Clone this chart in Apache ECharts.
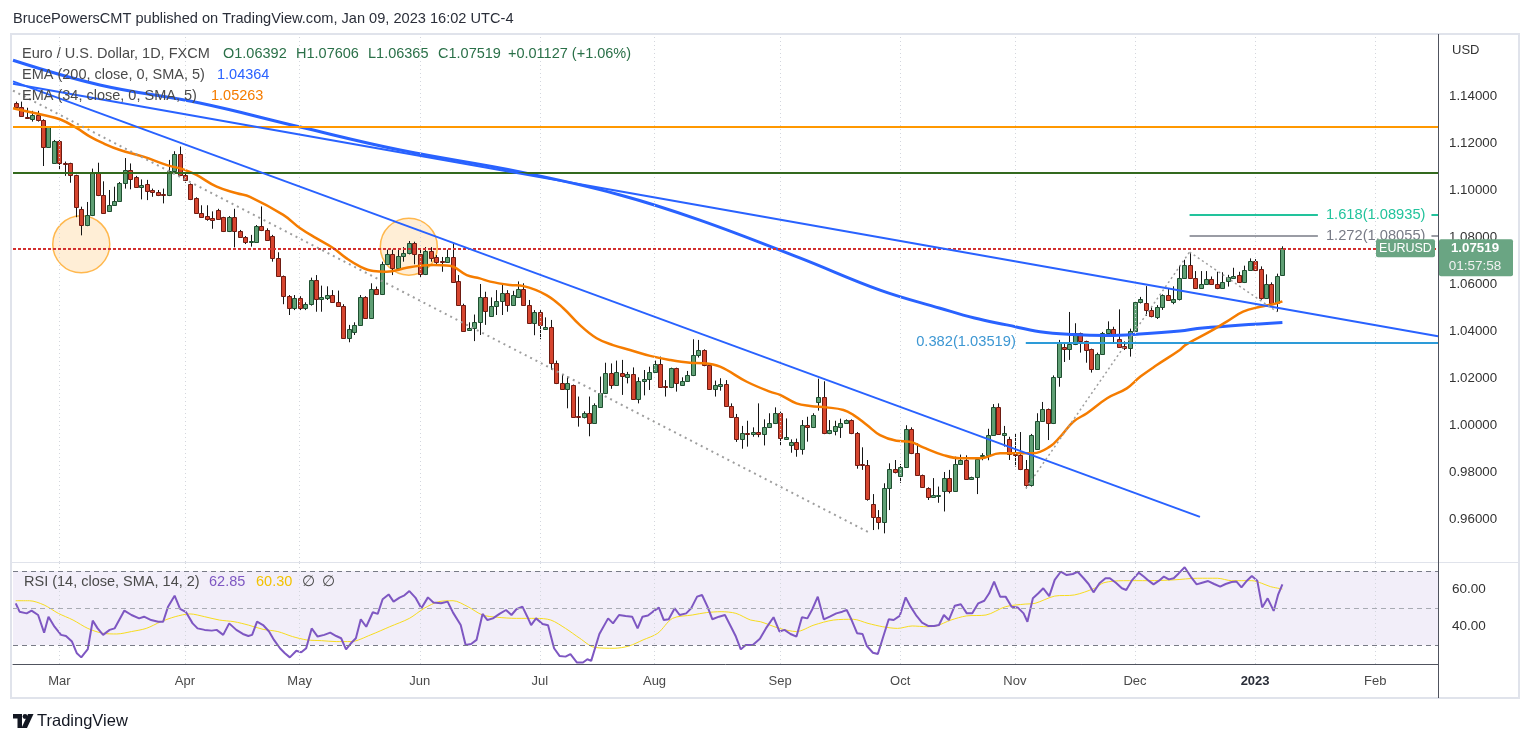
<!DOCTYPE html>
<html><head><meta charset="utf-8">
<script src="https://cdn.jsdelivr.net/npm/echarts@6/dist/echarts.min.js"></script>
<style>html,body{margin:0;padding:0;background:#fff;}#c{width:1527px;height:743px;}</style>
</head><body><div id="c"></div>
<script>
const FONT = "'Liberation Sans', Arial, sans-serif";

// ---- candles (index 0 = 2022-02-17, one per weekday) ----
const openP = [1.1369,1.1352,1.1309,1.1304,1.1318,1.1298,1.1185,1.1113,1.1210,1.1116,
1.1113,1.1062,1.0920,1.0850,1.0892,1.1071,1.0977,1.0912,1.0935,1.0952,
1.1028,1.1085,1.1054,1.1011,1.1026,1.1000,1.0991,1.0983,1.0977,1.1080,
1.1153,1.1062,1.1026,1.0966,1.0901,1.0889,1.0881,1.0915,1.0884,1.0824,
1.0886,1.0824,1.0801,1.0777,1.0780,1.0845,1.0828,1.0803,1.0709,1.0633,
1.0550,1.0496,1.0539,1.0499,1.0514,1.0616,1.0536,1.0542,1.0553,1.0522,
1.0508,1.0372,1.0397,1.0426,1.0545,1.0457,1.0579,1.0556,1.0684,1.0726,
1.0669,1.0718,1.0732,1.0774,1.0726,1.0641,1.0740,1.0715,1.0698,1.0695,
1.0715,1.0613,1.0511,1.0403,1.0411,1.0437,1.0543,1.0465,1.0506,1.0528,
1.0560,1.0512,1.0546,1.0577,1.0512,1.0435,1.0481,1.0410,1.0416,1.0262,
1.0177,1.0152,1.0169,1.0038,1.0033,1.0050,1.0010,1.0078,1.0138,1.0220,
1.0171,1.0223,1.0206,1.0217,1.0112,1.0186,1.0194,1.0226,1.0260,1.0166,
1.0160,1.0241,1.0169,1.0186,1.0211,1.0296,1.0319,1.0254,1.0154,1.0167,
1.0173,1.0081,1.0033,0.9939,0.9967,0.9962,0.9970,0.9962,0.9990,1.0007,
1.0050,0.9942,0.9913,0.9928,0.9899,0.9999,0.9990,1.0098,1.0118,0.9964,
0.9976,0.9993,1.0010,1.0021,0.9964,0.9834,0.9831,0.9664,0.9607,0.9587,
0.9732,0.9811,0.9783,0.9820,0.9982,0.9879,0.9786,0.9732,0.9695,0.9698,
0.9720,0.9774,0.9720,0.9834,0.9851,0.9769,0.9777,0.9868,0.9871,0.9959,
1.0075,0.9959,0.9939,0.9877,0.9874,0.9811,0.9743,0.9899,1.0016,1.0067,
1.0007,1.0203,1.0331,1.0322,1.0345,1.0390,1.0356,1.0322,1.0237,1.0302,
1.0390,1.0407,1.0367,1.0336,1.0328,1.0401,1.0523,1.0521,1.0489,1.0458,
1.0502,1.0553,1.0522,1.0536,1.0627,1.0681,1.0624,1.0584,1.0601,1.0621,
1.0601,1.0584,1.0613,1.0627,1.0638,1.0607,1.0661,1.0698,1.0664,1.0542,
1.0599,1.0519,1.06392];
const closeP = [1.1352,1.1315,1.1305,1.1318,1.1298,1.1185,1.1267,1.1210,1.1113,1.1111,
1.1062,1.0926,1.0850,1.0892,1.1071,1.0977,1.0903,1.0935,1.0952,1.1028,
1.1085,1.1045,1.1011,1.1023,1.0997,1.0991,1.0977,1.0977,1.1080,1.1153,
1.1062,1.1043,1.0963,1.0901,1.0886,1.0875,1.0872,1.0878,1.0824,1.0886,
1.0824,1.0801,1.0779,1.0783,1.0845,1.0828,1.0789,1.0709,1.0633,1.0550,
1.0496,1.0539,1.0499,1.0514,1.0616,1.0536,1.0545,1.0553,1.0522,1.0508,
1.0372,1.0408,1.0426,1.0545,1.0457,1.0579,1.0556,1.0684,1.0726,1.0669,
1.0718,1.0732,1.0774,1.0726,1.0641,1.0740,1.0712,1.0692,1.0692,1.0715,
1.0610,1.0511,1.0400,1.0411,1.0437,1.0543,1.0487,1.0506,1.0528,1.0560,
1.0512,1.0552,1.0577,1.0512,1.0435,1.0481,1.0424,1.0416,1.0262,1.0177,
1.0152,1.0180,1.0035,1.0033,1.0050,1.0010,1.0084,1.0138,1.0220,1.0171,
1.0226,1.0209,1.0217,1.0112,1.0186,1.0194,1.0226,1.0260,1.0163,1.0160,
1.0241,1.0177,1.0186,1.0211,1.0296,1.0319,1.0254,1.0154,1.0169,1.0173,
1.0081,1.0035,0.9939,0.9964,0.9962,0.9970,0.9962,0.9990,1.0007,1.0050,
0.9945,0.9948,0.9928,0.9899,0.9999,0.9990,1.0041,1.0118,0.9964,0.9979,
0.9996,1.0007,1.0021,0.9964,0.9831,0.9828,0.9684,0.9607,0.9587,0.9732,
0.9811,0.9800,0.9820,0.9982,0.9879,0.9786,0.9738,0.9695,0.9701,0.9701,
0.9774,0.9720,0.9834,0.9851,0.9769,0.9777,0.9854,0.9874,0.9959,1.0075,
0.9962,0.9964,0.9877,0.9871,0.9811,0.9743,0.9956,1.0016,1.0067,1.0007,
1.0203,1.0348,1.0322,1.0345,1.0390,1.0356,1.0319,1.0237,1.0302,1.0390,
1.0407,1.0382,1.0333,1.0328,1.0401,1.0523,1.0535,1.0489,1.0464,1.0501,
1.0553,1.0531,1.0536,1.0627,1.0681,1.0624,1.0582,1.0601,1.0621,1.0601,
1.0584,1.0610,1.0630,1.0635,1.0607,1.0661,1.0698,1.0661,1.0542,1.0599,
1.0519,1.0635,1.07519];
const highP = [1.1376,1.1376,1.1350,1.1337,1.1337,1.1301,1.1272,1.1213,1.1213,1.1121,
1.1116,1.1065,1.0929,1.0949,1.1091,1.1116,1.1037,1.1000,1.1014,1.1034,
1.1136,1.1113,1.1060,1.1045,1.1043,1.1006,1.1000,1.1006,1.1128,1.1165,
1.1185,1.1071,1.1028,1.0969,1.0935,1.0935,1.0909,1.0920,1.0886,1.0889,
1.0920,1.0830,1.0804,1.0809,1.0851,1.0930,1.0837,1.0809,1.0735,1.0636,
1.0553,1.0553,1.0548,1.0522,1.0627,1.0638,1.0593,1.0590,1.0574,1.0572,
1.0514,1.0426,1.0437,1.0553,1.0548,1.0603,1.0589,1.0695,1.0746,1.0746,
1.0752,1.0757,1.0783,1.0780,1.0752,1.0757,1.0757,1.0723,1.0715,1.0746,
1.0772,1.0638,1.0516,1.0437,1.0470,1.0600,1.0567,1.0543,1.0574,1.0603,
1.0574,1.0571,1.0611,1.0603,1.0532,1.0489,1.0489,1.0458,1.0447,1.0274,
1.0217,1.0206,1.0172,1.0121,1.0058,1.0121,1.0092,1.0206,1.0265,1.0262,
1.0274,1.0277,1.0226,1.0245,1.0203,1.0234,1.0248,1.0274,1.0291,1.0191,
1.0244,1.0244,1.0203,1.0230,1.0365,1.0362,1.0322,1.0254,1.0189,1.0199,
1.0191,1.0092,1.0047,0.9996,1.0018,0.9990,1.0092,1.0024,1.0050,1.0075,
1.0057,1.0028,0.9939,0.9942,1.0021,1.0035,1.0050,1.0197,1.0186,1.0021,
1.0018,1.0027,1.0024,1.0024,0.9970,0.9905,0.9851,0.9706,0.9638,0.9752,
0.9837,0.9851,0.9834,0.9999,0.9990,0.9922,0.9789,0.9735,0.9774,0.9738,
0.9800,0.9809,0.9865,0.9874,0.9871,0.9780,0.9860,0.9880,0.9984,1.0089,
1.0092,0.9996,0.9950,0.9962,0.9970,0.9851,0.9962,1.0050,1.0098,1.0070,
1.0211,1.0362,1.0353,1.0481,1.0433,1.0393,1.0359,1.0325,1.0308,1.0396,
1.0441,1.0418,1.0492,1.0356,1.0410,1.0526,1.0545,1.0591,1.0503,1.0510,
1.0556,1.0580,1.0590,1.0678,1.0703,1.0736,1.0655,1.0655,1.0655,1.0632,
1.0652,1.0650,1.0639,1.0669,1.0652,1.0678,1.0709,1.0706,1.0675,1.0641,
1.0607,1.0644,1.07606];
const lowP = [1.1343,1.1312,1.1303,1.1291,1.1291,1.1102,1.1182,1.1111,1.1085,1.1060,
1.1031,1.0884,1.0807,1.0846,1.0889,1.0974,1.0901,1.0909,1.0932,1.0949,
1.1006,1.1003,1.1009,1.0960,1.0957,1.0971,1.0974,1.0943,1.0974,1.1077,
1.1060,1.1031,1.0957,1.0898,1.0884,1.0869,1.0835,1.0875,1.0821,1.0821,
1.0756,1.0799,1.0770,1.0759,1.0777,1.0825,1.0786,1.0695,1.0630,1.0514,
1.0468,1.0489,1.0489,1.0489,1.0508,1.0482,1.0482,1.0532,1.0519,1.0503,
1.0366,1.0352,1.0383,1.0423,1.0454,1.0454,1.0553,1.0553,1.0681,1.0638,
1.0666,1.0695,1.0726,1.0684,1.0630,1.0638,1.0695,1.0684,1.0652,1.0692,
1.0607,1.0508,1.0397,1.0400,1.0357,1.0383,1.0426,1.0461,1.0468,1.0468,
1.0482,1.0509,1.0543,1.0509,1.0433,1.0382,1.0365,1.0408,1.0234,1.0174,
1.0149,1.0071,1.0033,0.9993,1.0028,0.9952,1.0007,1.0075,1.0135,1.0154,
1.0168,1.0128,1.0177,1.0109,1.0092,1.0126,1.0149,1.0223,1.0160,1.0121,
1.0157,1.0142,1.0166,1.0183,1.0208,1.0287,1.0250,1.0149,1.0121,1.0146,
1.0078,1.0032,0.9928,0.9899,0.9908,0.9950,0.9948,0.9913,0.9987,1.0004,
0.9913,0.9940,0.9882,0.9865,0.9874,0.9929,0.9987,1.0061,0.9961,0.9961,
0.9956,0.9945,1.0007,0.9961,0.9814,0.9809,0.9678,0.9553,0.9556,0.9539,
0.9638,0.9794,0.9754,0.9817,0.9876,0.9783,0.9735,0.9681,0.9692,0.9669,
0.9632,0.9709,0.9717,0.9830,0.9766,0.9766,0.9706,0.9850,0.9850,0.9956,
0.9959,0.9908,0.9851,0.9823,0.9808,0.9730,0.9738,0.9897,1.0013,0.9936,
1.0004,1.0163,1.0268,1.0277,1.0340,1.0308,1.0265,1.0223,1.0234,1.0299,
1.0387,1.0348,1.0331,1.0319,1.0291,1.0398,1.0517,1.0464,1.0458,1.0451,
1.0490,1.0528,1.0514,1.0530,1.0624,1.0621,1.0579,1.0581,1.0598,1.0598,
1.0578,1.0581,1.0589,1.0624,1.0604,1.0604,1.0658,1.0655,1.0533,1.0539,
1.0511,1.0482,1.06365];

// ---- indicator readings [bar index, value] ----
const ema200 = [[-0.5,1.1552],[15.4,1.1447],[33.7,1.1370],[52.1,1.1268],[70.4,1.1170],[92.4,1.1077],[110.7,1.0979],[125.3,1.0872],[143.6,1.0711],[158.3,1.0574],[169.3,1.0497],[175.6,1.0455],[181.5,1.0426],[187.6,1.0397],[193.6,1.0385],[199.9,1.0381],[205.9,1.0387],[213.2,1.0400],[217.4,1.0413],[232,1.04364]];
const ema34 = [[-0.5,1.1348],[5.05,1.1319],[8.1,1.1301],[11.2,1.1263],[13.6,1.1227],[16.0,1.1199],[19.1,1.1170],[23.4,1.1142],[27.7,1.1106],[30.7,1.1088],[33.1,1.1064],[36.8,1.1014],[40.5,1.0986],[42.9,1.0971],[49.0,1.0894],[52.1,1.0837],[55.1,1.0794],[58.2,1.0752],[60.6,1.0709],[63.1,1.0674],[65.5,1.0655],[67.9,1.0652],[71.6,1.0669],[74.0,1.0678],[76.5,1.0681],[79.5,1.0678],[82.6,1.0638],[85.0,1.0624],[86.9,1.0610],[90.5,1.0596],[93.0,1.0591],[97.2,1.0553],[100.3,1.0497],[103.3,1.0426],[106.4,1.0369],[109.4,1.0340],[112.5,1.0319],[116.2,1.0294],[119.8,1.0277],[123.5,1.0265],[125.9,1.0263],[129.0,1.0248],[133.9,1.0184],[138.1,1.0142],[140.0,1.0128],[143.0,1.0092],[145.5,1.0081],[148.5,1.0075],[151.6,1.0064],[153.4,1.0043],[155.9,1.0000],[158.3,0.9957],[161.3,0.9933],[163.8,0.9929],[166.2,0.9905],[169.9,0.9872],[172.9,0.9858],[176.6,0.9858],[180.3,0.9880],[183.3,0.9880],[186.4,0.9880],[189.4,0.9908],[191.3,0.9950],[193.7,1.0014],[196.2,1.0050],[199.9,1.0114],[203.5,1.0156],[206.0,1.0206],[209.0,1.0255],[213.2,1.0319],[214.2,1.0340],[218.7,1.0397],[221.8,1.0440],[224.8,1.0482],[227.9,1.0503],[230.3,1.0514],[232,1.05263]];
const rsi = [[0,52.6],[0.7,48.1],[2.0,47.2],[2.9,48.7],[4.1,46.3],[5.2,36.8],[6.0,45.4],[7.1,40.0],[8.3,35.6],[9.2,35.0],[10.3,32.0],[11.2,25.7],[12.0,23.5],[13.2,28.0],[14.1,43.3],[15.0,39.1],[16.0,35.6],[17.2,38.3],[18.1,39.1],[19.9,48.7],[21.2,46.3],[22.6,44.5],[23.5,45.4],[24.8,43.6],[26.1,42.7],[27.0,42.7],[27.9,50.8],[29.1,56.7],[30.1,49.6],[31.2,47.8],[32.4,41.8],[33.3,39.1],[34.6,38.3],[35.9,37.9],[36.8,38.3],[38.0,35.6],[39.1,41.8],[40.4,38.3],[41.6,36.1],[42.6,35.0],[43.3,35.6],[44.2,42.7],[45.3,40.9],[46.4,37.4],[47.3,32.9],[48.4,28.4],[49.3,25.7],[50.2,23.5],[51.4,27.1],[52.3,26.2],[53.2,28.4],[54.2,39.1],[55.3,34.7],[56.5,35.6],[57.6,36.8],[58.7,35.0],[59.6,33.8],[60.5,27.8],[61.4,31.1],[62.3,33.8],[63.2,44.0],[64.2,40.0],[65.4,47.8],[66.3,46.9],[67.2,54.8],[68.3,57.4],[69.2,53.5],[70.3,55.7],[71.2,56.9],[72.1,59.2],[73.2,55.7],[74.3,49.9],[75.5,55.8],[76.5,53.0],[77.9,52.6],[79.1,53.5],[80.1,47.6],[81.5,40.9],[82.4,30.2],[83.4,30.7],[84.4,32.9],[85.5,46.9],[86.4,43.6],[87.4,44.5],[88.6,46.9],[89.8,49.0],[90.8,46.3],[91.7,49.4],[92.8,50.8],[93.7,45.4],[94.4,40.9],[95.3,44.5],[96.5,41.5],[97.5,40.8],[98.6,28.4],[99.6,24.3],[100.7,23.9],[101.6,25.3],[102.8,20.7],[103.9,20.7],[104.7,22.5],[105.4,21.6],[106.9,36.1],[108.5,44.5],[109.4,41.8],[110.5,46.3],[111.7,45.8],[112.9,45.4],[113.9,39.1],[114.8,45.4],[115.8,46.0],[116.7,48.1],[117.8,50.3],[118.7,43.6],[119.6,44.0],[120.7,49.9],[121.6,46.3],[122.8,47.2],[123.7,49.9],[124.8,56.2],[125.7,57.1],[126.7,50.8],[127.6,44.0],[128.8,45.4],[129.9,46.3],[131.0,40.0],[131.9,34.7],[132.8,27.8],[133.7,30.2],[135.0,30.2],[136.3,33.5],[137.4,39.1],[138.8,45.1],[139.9,37.4],[140.8,38.3],[141.9,36.1],[143.0,34.7],[144.0,45.1],[145.0,44.5],[145.9,49.4],[146.9,56.2],[148.0,44.0],[149.1,45.4],[150.3,47.2],[151.4,48.1],[152.2,49.0],[153.1,43.6],[154.1,36.5],[155.1,36.1],[155.9,29.6],[157.0,26.0],[157.9,25.3],[158.8,33.8],[159.9,44.0],[160.8,43.6],[161.9,45.8],[163.0,55.8],[163.9,50.8],[165.0,45.8],[166.0,42.2],[167.1,40.4],[168.2,40.4],[169.1,40.9],[170.0,46.3],[170.9,43.6],[172.0,51.3],[173.1,52.1],[174.2,47.2],[175.2,47.2],[176.3,52.6],[177.4,54.0],[178.3,58.0],[179.2,64.3],[180.3,56.2],[181.3,56.2],[182.4,50.8],[183.5,50.4],[184.6,47.2],[185.3,42.7],[186.3,55.3],[187.3,58.0],[188.2,60.7],[189.3,56.5],[190.3,65.2],[191.4,69.6],[192.5,67.8],[193.6,68.4],[194.5,69.6],[195.6,66.1],[196.5,63.0],[197.4,58.5],[198.5,63.4],[199.6,66.1],[200.4,66.1],[201.5,63.7],[202.6,60.7],[203.4,59.8],[204.4,64.8],[205.7,69.1],[206.6,67.0],[207.5,64.8],[208.4,62.8],[209.4,64.8],[210.3,67.0],[211.2,65.5],[212.1,66.1],[213.0,68.7],[214.1,72.0],[215.2,67.0],[216.3,62.8],[217.3,63.7],[218.4,64.6],[219.5,63.0],[220.6,61.6],[221.6,63.0],[222.7,64.1],[223.6,64.3],[224.5,61.2],[225.5,64.8],[226.4,67.3],[227.4,64.8],[228.3,50.4],[229.3,55.3],[230.4,48.5],[231.2,57.1],[232,62.85]];
const rsiMa = [[0,54.0],[2.5,54.0],[5.2,51.7],[7.8,47.2],[10.5,43.6],[13.2,39.1],[15.9,36.5],[18.5,36.1],[21.2,37.4],[23.9,39.1],[26.6,42.7],[29.2,45.4],[31.9,46.9],[34.6,45.4],[37.3,43.6],[40.0,42.7],[42.6,40.9],[45.3,38.6],[48.0,37.4],[50.7,34.7],[53.3,32.9],[56.0,32.5],[58.7,32.0],[61.4,32.0],[65.0,35.6],[68.5,40.0],[72.1,44.5],[74.8,49.9],[77.5,53.5],[80.1,54.0],[82.8,50.8],[85.5,46.3],[88.2,45.1],[91.7,44.5],[95.3,44.5],[98.0,43.6],[100.7,39.1],[103.3,33.8],[106.0,28.9],[109.6,28.4],[112.3,29.6],[114.9,32.9],[117.6,36.5],[120.3,44.5],[123.9,46.3],[126.5,47.6],[129.2,48.1],[131.9,47.2],[134.6,43.6],[136.4,42.7],[139.9,39.1],[143.0,37.4],[146.2,40.9],[149.8,43.6],[153.4,44.0],[156.1,41.8],[158.8,40.0],[161.5,39.1],[164.2,40.4],[166.9,40.0],[168.6,40.4],[171.3,43.6],[174.1,45.8],[177.7,46.3],[181.3,50.8],[184.9,52.2],[186.7,52.6],[190.3,56.5],[193.9,57.1],[197.6,60.7],[199.3,63.7],[202.9,64.8],[207.5,64.8],[212.0,65.2],[216.5,66.1],[220.1,66.1],[222.7,64.8],[226.4,64.8],[228.2,63.4],[229.8,61.6],[232,60.3]];

// ---- drawings / levels ----
const circles = [[12,1.0769],[72,1.0759]];
const hLevels = [1.1268, 1.1074, 1.0748];
const fibPts = [[185,0.9730],[215,1.0736],[231,1.0482]];
const fibLevels = [0.382, 1.272, 1.618];
const fibValues = [1.03519, 1.08055, 1.08935];
const priceTicks = [0.96,0.98,1.00,1.02,1.04,1.06,1.08,1.10,1.12,1.14];
const rsiTicks = [40, 60];
const lastPrice = 1.07519;

// ---- dates (weekdays) ----
const N = 261;
const dates = [];
{ let d = new Date(Date.UTC(2022,1,17));
  while (dates.length < N) { const w = d.getUTCDay(); if (w !== 0 && w !== 6) dates.push(new Date(d)); d.setUTCDate(d.getUTCDate()+1); } }
const monthNames = ['Jan','Feb','Mar','Apr','May','Jun','Jul','Aug','Sep','Oct','Nov','Dec'];
const monthTicks = [];
for (let i = 1; i < N; i++) if (dates[i].getUTCMonth() !== dates[i-1].getUTCMonth()) monthTicks.push(i);
function monthLabel(v){ const dt = dates[Math.round(v)]; const m = dt.getUTCMonth(); return m === 0 ? '{b|' + dt.getUTCFullYear() + '}' : monthNames[m]; }

const candles = openP.map((o,i)=>[i,o,closeP[i],lowP[i],highP[i]]);

const BLUE = '#2962ff';
const chart = echarts.init(document.getElementById('c'));
const gridLineMark = (arr)=>({silent:true, symbol:['none','none'], animation:false, label:{show:false}, precision:6,
  lineStyle:{color:'#d3d6dd', type:[1,3], width:1}, data: arr.map(i=>({xAxis:i}))});

const option = {
  animation:false,
  backgroundColor:'#ffffff',
  textStyle:{fontFamily:FONT},
  grid:[{left:13, right:89, top:34, height:528},{left:13, right:89, top:563, height:101}],
  xAxis:[
    {type:'value', gridIndex:0, min:-0.5, max:N-0.5, show:false},
    {type:'value', gridIndex:1, min:-0.5, max:N-0.5,
      axisLine:{show:true, onZero:false, lineStyle:{color:'#50535e'}}, axisTick:{show:false}, splitLine:{show:false},
      axisLabel:{customValues:monthTicks, formatter:monthLabel, margin:11, color:'#4a4a4a', fontSize:13, fontFamily:FONT,
        rich:{b:{fontWeight:'bold', color:'#2a2e39', fontSize:13, fontFamily:FONT}}}}
  ],
  yAxis:[
    {type:'value', gridIndex:0, position:'right', min:0.94170, max:1.16638, axisLine:{show:false}, axisTick:{show:false}, splitLine:{show:false},
      axisLabel:{customValues:priceTicks, formatter:v=>v.toFixed(5), color:'#333', fontSize:13.3, margin:11, fontFamily:FONT}},
    {type:'value', gridIndex:1, position:'right', min:19.93, max:74.31, axisLine:{show:false}, axisTick:{show:false}, splitLine:{show:false},
      axisLabel:{customValues:rsiTicks, formatter:v=>v.toFixed(2), color:'#333', fontSize:13.5, margin:14, fontFamily:FONT}}
  ],
  series:[
    {type:'scatter', xAxisIndex:0, yAxisIndex:0, data:circles, symbolSize:57, silent:true, z:1,
      itemStyle:{color:'rgba(255,152,0,0.2)', borderColor:'#ffa726', borderWidth:1.5},
      markLine:gridLineMark(monthTicks)},
    {type:'custom', xAxisIndex:0, yAxisIndex:0, data:candles, z:3, silent:true,
      renderItem:function(params, api){
        const i=api.value(0), o=api.value(1), c=api.value(2), l=api.value(3), h=api.value(4);
        const pO=api.coord([i,o]), pC=api.coord([i,c]), pL=api.coord([i,l]), pH=api.coord([i,h]);
        const w=Math.max(2, Math.round(api.size([1,0])[0]*0.7));
        const up=c>=o;
        const x=Math.round(pO[0]);
        const top=Math.round(Math.min(pO[1],pC[1])), bot=Math.round(Math.max(pO[1],pC[1]));
        return {type:'group', children:[
          {type:'line', shape:{x1:x+0.5, y1:pH[1], x2:x+0.5, y2:pL[1]}, style:{stroke:'#151515', lineWidth:1}},
          {type:'rect', shape:{x:x-Math.floor(w/2)+0.5, y:top+0.5, width:w, height:Math.max(bot-top,1)},
            style:{fill:up?'#5f9f74':'#d6452f', stroke:up?'#1f4f30':'#6e1b12', lineWidth:1}}
        ]};
      }},
    {type:'line', xAxisIndex:0, yAxisIndex:0, data:ema200, smooth:0.4, showSymbol:false, z:4, silent:true,
      lineStyle:{color:BLUE, width:3},
      markLine:{silent:true, symbol:['none','none'], animation:false, label:{show:false}, z:5, precision:6,
        data:[
          {yAxis:hLevels[0], lineStyle:{color:'#ff9800', width:2, type:'solid'}},
          {yAxis:hLevels[1], lineStyle:{color:'#33691e', width:2, type:'solid'}},
          {yAxis:hLevels[2], lineStyle:{color:'#d32f2f', width:2, type:[3,2]}},
          [{coord:[-0.5,1.1462], lineStyle:{color:BLUE, width:2, type:'solid'}},{coord:[216.9,0.9609]}],
          [{coord:[-0.5,1.1452], lineStyle:{color:BLUE, width:2, type:'solid'}},{coord:[N-0.5,1.0378]}],
          [{coord:[-0.5,1.1423], lineStyle:{color:'#9e9e9e', width:2, type:[2,4]}},{coord:[156.5,0.9540]}],
          [{coord:fibPts[0], lineStyle:{color:'#9e9e9e', width:1.5, type:[2,3]}},{coord:fibPts[1]}],
          [{coord:fibPts[1], lineStyle:{color:'#9e9e9e', width:1.5, type:[2,3]}},{coord:fibPts[2]}],
          [{coord:[fibPts[0][0],fibValues[0]], lineStyle:{color:'#2d9bd8', width:2, type:'solid'},
            label:{show:true, position:'start', distance:10, formatter:fibLevels[0].toFixed(3)+'('+fibValues[0].toFixed(5)+')', color:'#3d97d3', fontSize:14.7, fontFamily:FONT}},
           {coord:[N-0.5,fibValues[0]]}],
          [{coord:[fibPts[1][0],fibValues[1]], lineStyle:{color:'#787b86', width:1.5, type:'solid'},
            label:{show:true, position:'end', distance:8, formatter:fibLevels[1].toFixed(3)+'('+fibValues[1].toFixed(5)+')', color:'#787b86', fontSize:14.7, fontFamily:FONT}},
           {coord:[238.5,fibValues[1]]}],
          [{coord:[259.3,fibValues[1]], lineStyle:{color:'#787b86', width:1.5, type:'solid'}},{coord:[N-0.5,fibValues[1]]}],
          [{coord:[fibPts[1][0],fibValues[2]], lineStyle:{color:'#22c39c', width:2, type:'solid'},
            label:{show:true, position:'end', distance:8, formatter:fibLevels[2].toFixed(3)+'('+fibValues[2].toFixed(5)+')', color:'#22c39c', fontSize:14.7, fontFamily:FONT}},
           {coord:[238.5,fibValues[2]]}],
          [{coord:[259.3,fibValues[2]], lineStyle:{color:'#22c39c', width:2, type:'solid'}},{coord:[N-0.5,fibValues[2]]}]
        ]}},
    {type:'line', xAxisIndex:0, yAxisIndex:0, data:ema34, smooth:0.4, showSymbol:false, z:4, silent:true,
      lineStyle:{color:'#f57c00', width:2.5}},
    {type:'line', xAxisIndex:1, yAxisIndex:1, data:rsiMa, smooth:0.3, showSymbol:false, z:3, silent:true,
      lineStyle:{color:'#f7dc1e', width:1},
      markArea:{silent:true, itemStyle:{color:'rgba(126,87,194,0.1)'}, data:[[{yAxis:30},{yAxis:70}]]},
      markLine:gridLineMark(monthTicks)},
    {type:'line', xAxisIndex:1, yAxisIndex:1, data:rsi, showSymbol:false, z:4, silent:true,
      lineStyle:{color:'#7e57c2', width:2},
      markLine:{silent:true, symbol:['none','none'], animation:false, label:{show:false}, precision:6,
        data:[{yAxis:70, lineStyle:{color:'#787b86', type:[5,4], width:1}},
              {yAxis:50, lineStyle:{color:'#a8abb3', type:[5,4], width:1}},
              {yAxis:30, lineStyle:{color:'#787b86', type:[5,4], width:1}}]}}
  ]
};
chart.setOption(option);

const py = chart.convertToPixel({yAxisIndex:0}, lastPrice);
const txt = (x,y,t,color,size)=>({type:'text', x:x, y:y, z:100, silent:true,
  style:{text:t, fill:color, fontSize:size||13, fontFamily:FONT, textVerticalAlign:'middle', textAlign:'left'}});
const ctxt = (x,y,t,color,size,bold)=>({type:'text', x:x, y:y, z:101, silent:true,
  style:{text:t, fill:color, fontSize:size, fontWeight:bold?'bold':'normal', fontFamily:FONT, textVerticalAlign:'middle', textAlign:'center'}});
const LS = 14.5;
const G = [
  {type:'rect', z:90, shape:{x:11, y:34, width:1508, height:664}, style:{fill:'none', stroke:'#e0e3eb', lineWidth:2}, silent:true},
  {type:'line', z:90, shape:{x1:11, y1:562.5, x2:1519, y2:562.5}, style:{stroke:'#e0e3eb', lineWidth:1}, silent:true},
  {type:'line', z:90, shape:{x1:1438.5, y1:34, x2:1438.5, y2:698}, style:{stroke:'#50535e', lineWidth:1}, silent:true},
  txt(13,19,'BrucePowersCMT published on TradingView.com, Jan 09, 2023 16:02 UTC-4','#2a2e39',14.6),
  txt(22,54,'Euro / U.S. Dollar, 1D, FXCM','#4a4a4a',LS),
  txt(223,54,'O1.06392','#2a7048',LS), txt(296,54,'H1.07606','#2a7048',LS), txt(368,54,'L1.06365','#2a7048',LS),
  txt(438,54,'C1.07519','#2a7048',LS), txt(508,54,'+0.01127 (+1.06%)','#2a7048',LS),
  txt(22,75,'EMA (200, close, 0, SMA, 5)','#4a4a4a',LS), txt(217,75,'1.04364',BLUE,LS),
  txt(22,96,'EMA (34, close, 0, SMA, 5)','#4a4a4a',LS), txt(211,96,'1.05263','#f57c00',LS),
  txt(24,582,'RSI (14, close, SMA, 14, 2)','#4a4a4a',LS), txt(209,582,'62.85','#7e57c2',LS),
  txt(256,582,'60.30','#f2c200',LS), txt(302,582,'∅','#4a4a4a',LS), txt(322,582,'∅','#4a4a4a',LS),
  txt(1452,50,'USD','#333',13),
  {type:'rect', z:100, shape:{x:1376, y:py-9, width:59, height:18, r:2}, style:{fill:'#6aa583'}, silent:true},
  ctxt(1405.5,py,'EURUSD','#ffffff',12.5,false),
  {type:'rect', z:100, shape:{x:1439, y:py-9, width:74, height:37, r:2}, style:{fill:'#6aa583'}, silent:true},
  ctxt(1475,py,'1.07519','#ffffff',13.3,true),
  ctxt(1475,py+18,'01:57:58','#f2f2f2',13.5,false),
  {type:'polygon', z:100, shape:{points:[[13,714],[22,714],[22,728],[17.5,728],[17.5,718.5],[13,718.5]]}, style:{fill:'#131722'}, silent:true},
  {type:'circle', z:100, shape:{cx:25, cy:716.5, r:2.4}, style:{fill:'#131722'}, silent:true},
  {type:'polygon', z:100, shape:{points:[[28,714],[33.5,714],[27,728],[21.5,728]]}, style:{fill:'#131722'}, silent:true},
  txt(37,721,'TradingView','#131722',16.5)
];
chart.setOption({graphic:G});
</script></body></html>
